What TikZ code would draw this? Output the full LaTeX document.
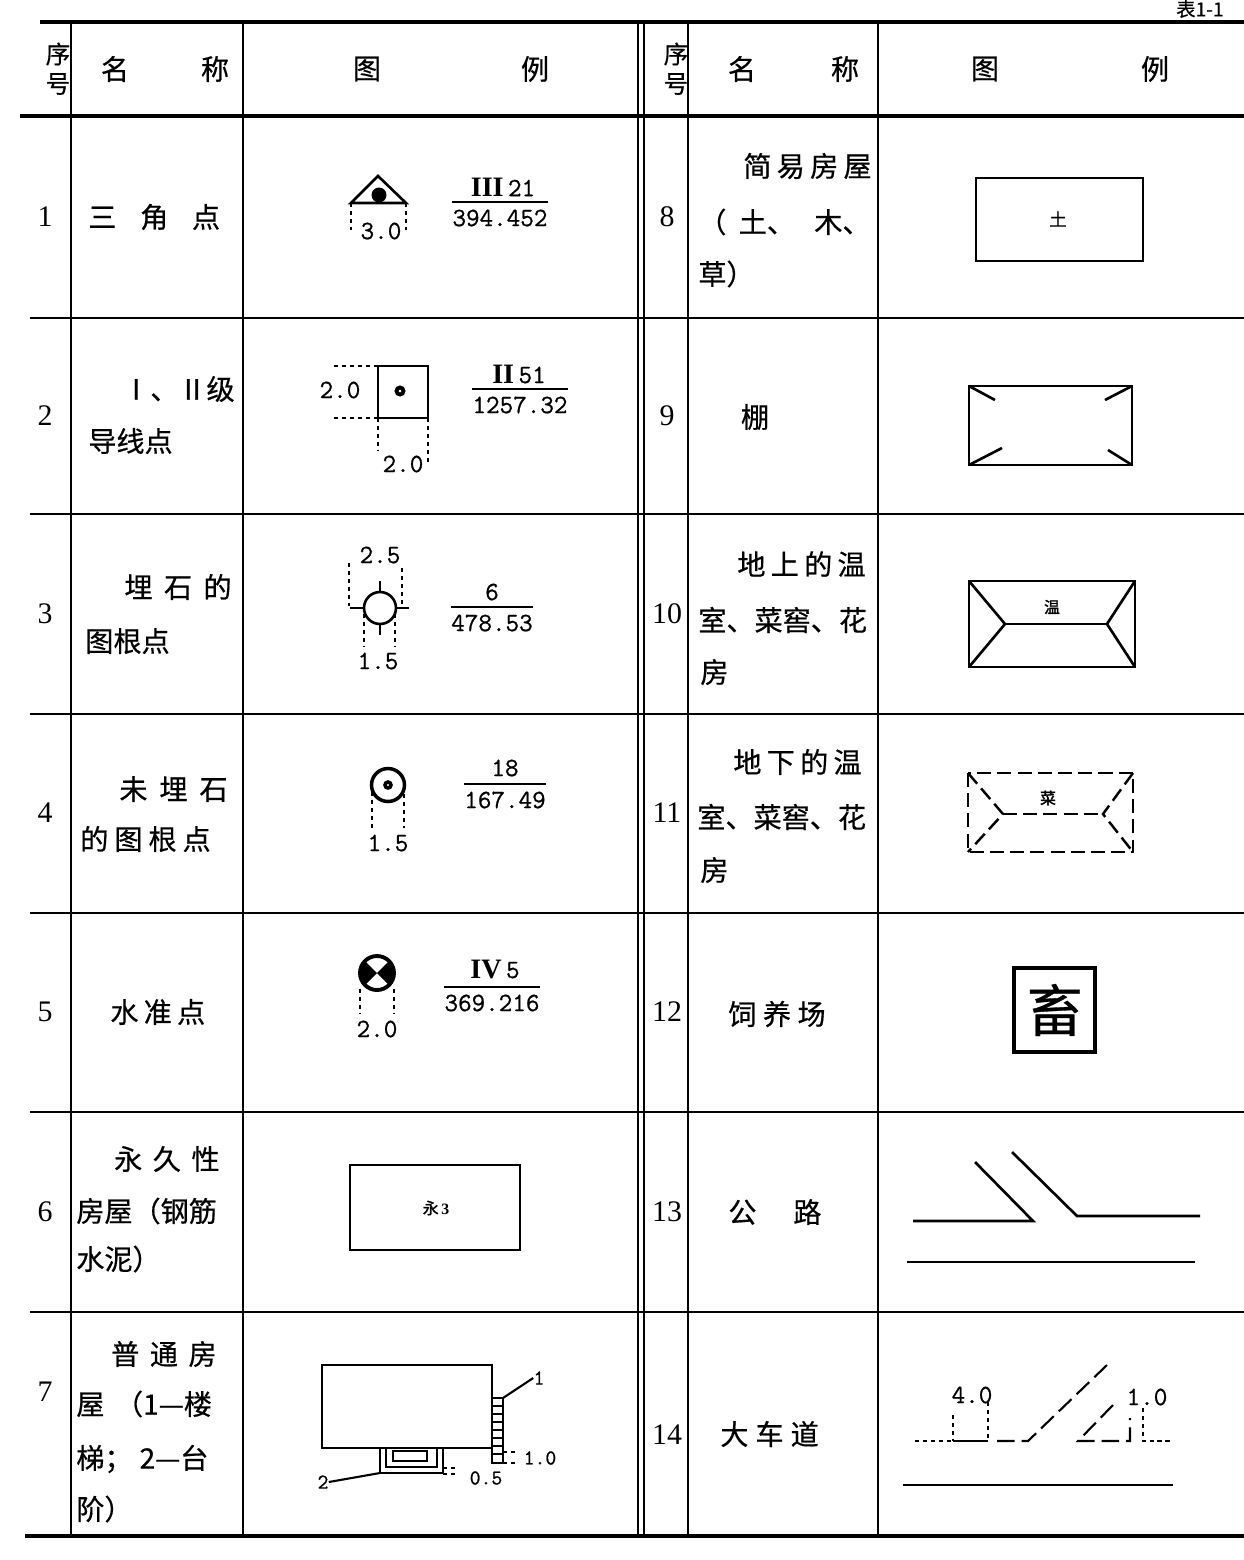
\documentclass[tikz,border=0pt]{standalone}
\usepackage{fontspec}
\usepackage{tikz}
\setmainfont{Liberation Serif}
\newfontfamily\cjk[FakeBold=0.6]{Noto Sans CJK SC}
\newfontfamily\cjkb[FakeBold=2]{Noto Sans CJK SC}
\newfontfamily\valfont[FakeBold=0.8]{Latin Modern Mono}

\tikzset{
  rule/.style={line width=1.1pt},
  thickrule/.style={line width=2.4pt},
  sym/.style={line width=1.5pt},
  dim/.style={line width=0.8pt,dash pattern=on 2.5pt off 2pt},
  hd/.style={font=\cjk\fontsize{16}{16}\selectfont,inner sep=0pt},
  nm/.style={font=\cjk\fontsize{16}{16}\selectfont,inner sep=0pt},
  numb/.style={font=\fontsize{17}{17}\selectfont,inner sep=0pt},
  val/.style={font=\valfont\fontsize{15}{15}\selectfont,inner sep=0pt},
  small/.style={font=\valfont\fontsize{12}{12}\selectfont,inner sep=0pt},
  tag/.style={font=\cjkb\fontsize{9}{9}\selectfont,inner sep=0pt}
}
\newcommand{\rn}[1]{{\rmfamily\bfseries\fontsize{16}{16}\selectfont #1}\,}

\begin{document}
\begin{tikzpicture}[x=0.02cm,y=-0.02cm]
\useasboundingbox (0,0) rectangle (1244,1560);
\clip (0,0) rectangle (1244,1560);

% table
\node[nm,font=\cjk\fontsize{11}{11}\selectfont] (tab) at (1200,9) {表1-1};
\draw[thickrule] (40,22) -- (1244,22);
\draw[thickrule] (20,116) -- (1244,116);
\draw[thickrule] (25,1536) -- (1244,1536);
\foreach \y in {318,514,714,913,1112,1312} {
    \draw[rule] (30,\y) -- (1244,\y);
}
\foreach \x in {71,243,638,644,688,878} {
    \draw[rule] (\x,22) -- (\x,1536);
}

% header
\foreach \x/\s in {58/a,676/b} {
    \node[hd,font=\cjk\fontsize{14}{14}\selectfont] (xu\s) at (\x,54) {序};
    \node[hd,font=\cjk\fontsize{14}{14}\selectfont] (xl\s) at (\x,84) {号};
}
\node[hd] (ha) at (115,69) {名};
\node[hd] (hb) at (215,69) {称};
\node[hd] (hc) at (367,69) {图};
\node[hd] (hd) at (535,69) {例};
\node[hd] (he) at (742,69) {名};
\node[hd] (hf) at (845,69) {称};
\node[hd] (hg) at (985,69) {图};
\node[hd] (hh) at (1155,69) {例};

% numbers
\foreach \i/\y in {1/217,2/416,3/614,4/813,5/1012,6/1212,7/1392} {
    \node[numb] (l\i) at (45,\y) {\i};
}
\foreach \i/\y in {8/217,9/416,10/614,11/813,12/1012,13/1212,14/1435} {
    \node[numb] (r\i) at (667,\y) {\i};
}

% names
\node[nm,anchor=west] (t1) at (88,217) {三\hspace{13.5pt}角\hspace{13.5pt}点};
\node[nm,anchor=east] (t2a) at (235,389) {Ⅰ、Ⅱ级};
\node[nm,anchor=west] (t2b) at (88,441) {导线点};
\node[nm,anchor=east] (t3a) at (232,587) {埋\hspace{6.5pt}石\hspace{6.5pt}的};
\node[nm,anchor=west] (t3b) at (85,641) {图根点};
\node[nm,anchor=east] (t4a) at (228,789) {未\hspace{6.8pt}埋\hspace{6.8pt}石};
\node[nm,anchor=west] (t4b) at (80,839) {的\hspace{3.4pt}图\hspace{3.4pt}根\hspace{3.4pt}点};
\node[nm,anchor=west] (t5) at (110,1012) {水\hspace{3pt}准\hspace{3pt}点};
\node[nm,anchor=east] (t6a) at (220,1159) {永\hspace{6pt}久\hspace{6pt}性};
\node[nm,anchor=west] (t6b) at (76,1211) {房屋（钢筋};
\node[nm,anchor=west] (t6c) at (76,1259) {水泥）};
\node[nm,anchor=east] (t7a) at (217,1354) {普\hspace{6pt}通\hspace{6pt}房};
\node[nm,anchor=west] (t7b) at (76,1404) {屋\hspace{6pt}（1—楼};
\node[nm,anchor=west] (t7c) at (76,1459) {梯；\hspace{4pt}2—台};
\node[nm,anchor=west] (t7d) at (76,1509) {阶）};

\node[nm,anchor=east] (t8a) at (872,166) {简\hspace{3pt}易\hspace{3pt}房\hspace{3pt}屋};
\node[nm,anchor=west] (t8b) at (698,222) {（\hspace{7pt}土、\hspace{11pt}木、};
\node[nm,anchor=west] (t8c) at (698,274) {草）};
\node[nm] (t9) at (755,417) {棚};
\node[nm,anchor=east] (t10a) at (866,564) {地\hspace{3pt}上\hspace{3pt}的\hspace{3pt}温};
\node[nm,anchor=west] (t10b) at (698,620) {室、菜窖、花};
\node[nm,anchor=west] (t10c) at (700,672) {房};
\node[nm,anchor=east] (t11a) at (862,762) {地\hspace{3pt}下\hspace{3pt}的\hspace{3pt}温};
\node[nm,anchor=west] (t11b) at (697,817) {室、菜窖、花};
\node[nm,anchor=west] (t11c) at (700,870) {房};
\node[nm,anchor=west] (t12) at (728,1014) {饲\hspace{3.7pt}养\hspace{3.7pt}场};
\node[nm,anchor=west] (t13) at (728,1212) {公\hspace{21pt}路};
\node[nm,anchor=west] (t14) at (720,1434) {大\hspace{4pt}车\hspace{4pt}道};

% 1 triangle point
\draw[sym] (351,203) -- (378,176) -- (406,203) -- cycle;
\fill (379,195) circle (0.15cm);
\draw[dim] (351,203) -- (351,230);
\draw[dim] (406,203) -- (406,230);
\node[val] (d1) at (381,231) {3.0};
\node[val] (a1) at (503,187) {\rn{III}21};
\node[val] (b1) at (500,218) {394.452};
\draw[line width=1pt] ([yshift=4pt]b1.north west) -- ([yshift=4pt]b1.north east);

% 2 traverse point
\draw[sym] (378,366) rectangle (428,418);
\draw[line width=2.2pt] (400,391) circle (0.07cm);
\draw[dim] (378,366) -- (333,366);
\draw[dim] (378,418) -- (333,418);
\draw[dim] (378,418) -- (378,450);
\draw[dim] (428,418) -- (428,462);
\node[val] (d2a) at (340,390) {2.0};
\node[val] (d2b) at (403,464) {2.0};
\node[val] (a2) at (519,374) {\rn{II}51};
\node[val] (b2) at (520,405) {1257.32};
\draw[line width=1pt] ([yshift=4pt]b2.north west) -- ([yshift=4pt]b2.north east);

% 3 buried control point
\draw[sym] (380,608) circle (0.32cm);
\draw[sym] (380,592) -- (380,581);
\draw[sym] (364,608) -- (350,608);
\draw[sym] (396,608) -- (409,608);
\draw[sym] (380,624) -- (380,635);
\draw[dim] (349,563) -- (349,606);
\draw[dim] (402,568) -- (402,604);
\draw[dim] (364,614) -- (364,646);
\draw[dim] (395,614) -- (395,646);
\node[val] (d3a) at (380,555) {2.5};
\node[val] (d3b) at (378,661) {1.5};
\node[val] (a3) at (492,592) {6};
\node[val] (b3) at (492,623) {478.53};
\draw[line width=1pt] ([yshift=4pt]b3.north west) -- ([yshift=4pt]b3.north east);

% 4 control point
\draw[line width=2pt] (388,785) circle (0.33cm);
\draw[line width=2pt] (388,785) circle (0.06cm);
\draw[dim] (372,792) -- (372,828);
\draw[dim] (404,786) -- (404,828);
\node[val] (d4) at (388,843) {1.5};
\node[val] (a4) at (505,768) {18};
\node[val] (b4) at (505,800) {167.49};
\draw[line width=1pt] ([yshift=4pt]b4.north west) -- ([yshift=4pt]b4.north east);

% 5 level point
\begin{scope}
\clip (377,973) circle (0.34cm);
\fill (377,973) -- (355,951) -- (355,995) -- cycle;
\fill (377,973) -- (399,951) -- (399,995) -- cycle;
\end{scope}
\draw[line width=2.2pt] (377,973) circle (0.34cm);
\draw[dim] (360,989) -- (360,1014);
\draw[dim] (394,989) -- (394,1014);
\node[val] (d5) at (377,1029) {2.0};
\node[val] (a5) at (495,969) {\rn{IV}5};
\node[val] (b5) at (492,1003) {369.216};
\draw[line width=1pt] ([yshift=4pt]b5.north west) -- ([yshift=4pt]b5.north east);

% 6 permanent house
\draw[sym] (350,1165) rectangle (520,1250);
\node[tag] (y6) at (436,1208) {永\,{\rmfamily\bfseries 3}};

% 7 ordinary house
\draw[sym] (322,1365) rectangle (492,1448);
\draw[sym] (492,1398) rectangle (503,1463);
\foreach \y in {1406,1414,...,1456} {
    \draw[line width=1.2pt] (492,\y) -- (503,\y);
}
\coordinate (st) at (503,1398);
\node[small] (k1) at (539,1378) {1};
\draw[line width=1.2pt] (st) -- (k1.west);
\draw[dim,line width=0.6pt] (503,1452) -- (518,1452);
\draw[dim,line width=0.6pt] (503,1463) -- (518,1463);
\node[small] (v10) at (540,1458) {1.0};
\draw[sym] (380,1448) -- (380,1473) -- (443,1473) -- (443,1448);
\draw[line width=1.2pt] (386,1448) -- (386,1467) -- (437,1467) -- (437,1448);
\draw[line width=1.2pt] (393,1451) rectangle (427,1461);
\coordinate (tj) at (380,1473);
\node[small] (k2) at (323,1482) {2};
\draw[line width=1.2pt] (tj) -- (k2.east);
\draw[dim,line width=0.6pt] (443,1468) -- (458,1468);
\draw[dim,line width=0.6pt] (443,1474) -- (458,1474);
\node[small] (v05) at (486,1478) {0.5};

% right column symbols
\begin{scope}[shift={(0,-5)}]
% 8 simple house
\draw[sym] (976,183) rectangle (1143,266);
\node[tag,font=\cjk\fontsize{10}{10}\selectfont] (tu) at (1058,224) {土};
% 9 shed
\draw[sym] (969,391) rectangle (1132,470);
\draw[sym] (969,391) -- (995,405);
\draw[sym] (1132,391) -- (1105,405);
\draw[sym] (969,470) -- (1002,453);
\draw[sym] (1132,470) -- (1108,455);
% 10 greenhouse above ground
\draw[sym] (969,586) rectangle (1135,672);
\draw[sym] (969,586) -- (1005,629) -- (969,672);
\draw[sym] (1135,586) -- (1107,629) -- (1135,672);
\draw[sym] (1005,629) -- (1107,629);
\node[tag] (wen) at (1052,612) {温};
% 11 greenhouse below ground
\begin{scope}[line width=1.4pt,dash pattern=on 8pt off 3.5pt]
\draw (968,778) rectangle (1133,857);
\draw (968,778) -- (1003,819) -- (968,857);
\draw (1133,778) -- (1103,819) -- (1133,857);
\draw (1003,819) -- (1103,819);
\end{scope}
\node[tag] (cai) at (1048,803) {菜};
% 12 farm
\draw[line width=2.2pt] (1014,973) rectangle (1095,1057);
\node[nm,font=\cjk\fontsize{32}{32}\selectfont] (xu) at (1055,1015) {畜};
% 13 road
\draw[sym] (913,1226) -- (1033,1226) -- (975,1167);
\draw[sym] (1012,1157) -- (1077,1221) -- (1200,1221);
\draw[sym] (907,1267) -- (1195,1267);
% 14 cart road
\draw[line width=1.3pt] (903,1490) -- (1173,1490);
\draw[dim] (915,1446) -- (953,1446);
\draw[dim] (953,1420) -- (953,1446);
\draw[dim] (988,1407) -- (988,1446);
\draw[line width=1.2pt] (953,1446) -- (988,1446);
\draw[line width=1.2pt,dash pattern=on 10pt off 4pt] (997,1446) -- (1028,1446) -- (1107,1370);
\draw[line width=1.2pt,dash pattern=on 10pt off 4pt] (1113,1410) -- (1078,1446) -- (1130,1446) -- (1130,1423);
\draw[dim] (1143,1413) -- (1143,1446) -- (1173,1446);
\node[val] (d14a) at (972,1400) {4.0};
\node[val] (d14b) at (1147,1402) {1.0};
\end{scope}
\end{tikzpicture}
\end{document}
